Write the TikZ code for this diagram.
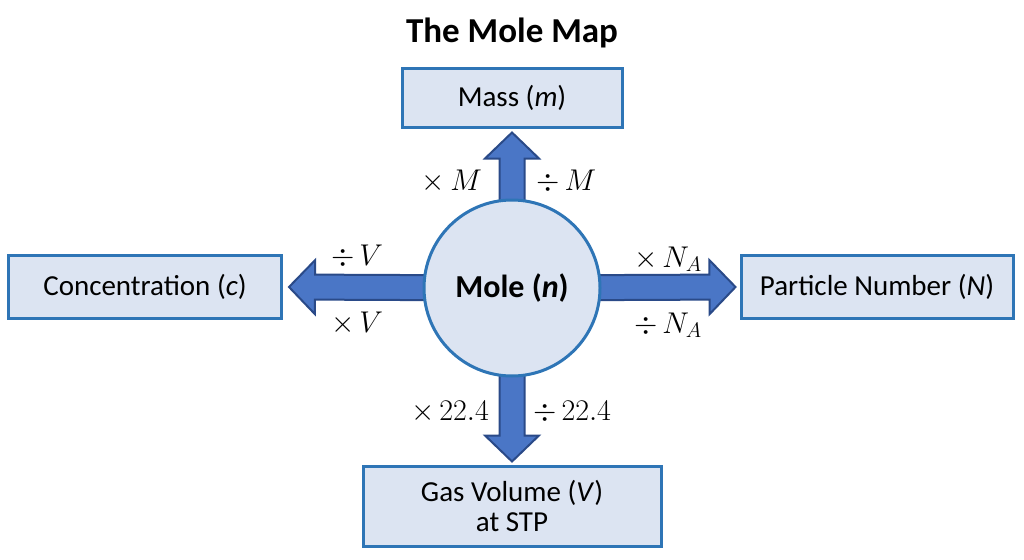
\documentclass[tikz,border=0pt]{standalone}
\usepackage{fix-cm}
\usepackage[no-math]{fontspec}
\setmainfont{Carlito}
\usetikzlibrary{calc,backgrounds}
\definecolor{boxfill}{HTML}{DCE4F2}
\definecolor{boxline}{HTML}{2E75B6}
\definecolor{arrfill}{HTML}{4A76C6}
\definecolor{arrline}{HTML}{2A4A88}
\tikzset{
  box/.style={draw=boxline, fill=boxfill, line width=3pt, rectangle, align=center, inner sep=0pt,
    font=\fontsize{29}{33}\selectfont},
  molecircle/.style={draw=boxline, fill=boxfill, line width=3pt, circle, minimum size=176pt, inner sep=0pt,
    font=\fontsize{32}{36}\selectfont\bfseries},
  fatarrow/.style={draw=arrline, line width=2pt, line join=miter, fill=arrfill},
  lab/.style={font=\fontsize{30}{34}\selectfont, inner sep=0pt},
  titlestyle/.style={font=\fontsize{35}{40}\selectfont\bfseries, inner sep=0pt}
}
\newcommand\fatarrow[2]{%
  \path (#1) coordinate (faS) (#2) coordinate (faT);
  \path ($(faT)!26pt!(faS)$) coordinate (faH);
  \draw[fatarrow] ($(faS)!12.5pt!90:(faT)$) -- ($(faH)!12.5pt!90:(faT)$) -- ($(faH)!27pt!90:(faT)$)
    -- (faT) -- ($(faH)!27pt!-90:(faT)$) -- ($(faH)!12.5pt!-90:(faT)$) -- ($(faS)!12.5pt!-90:(faT)$) -- cycle;
}
\begin{document}
\begin{tikzpicture}[x=1pt,y=-1pt]
\useasboundingbox (0,0) rectangle (1024,559);
\node[titlestyle] (title) at (512,33) {The Mole Map};
\node[box, minimum width=220pt, minimum height=58pt] (mass) at (512,98) {Mass (\textit{m})};
\node[box, minimum width=273pt, minimum height=63pt] (conc) at (145,287) {Concentration (\textit{c})};
\node[box, minimum width=272pt, minimum height=63pt] (part) at (877,287) {Particle Number (\textit{N})};
\node[box, minimum width=298pt, minimum height=80pt] (gas) at (512,506) {Gas Volume (\textit{V})\\[-3pt]at STP};
\node[molecircle] (mole) at (512,288) {Mole (\textit{n})};
\begin{pgfonlayer}{background}
  \fatarrow{mole.center}{$(mass.south)+(0,4)$}
  \fatarrow{mole.center}{$(conc.east)+(6,0)$}
  \fatarrow{mole.center}{$(part.west)+(-4,0)$}
  \fatarrow{mole.center}{$(gas.north)+(0,-3)$}
\end{pgfonlayer}
\node[lab, anchor=east] (l1) at (482,181) {$\times\, M$};
\node[lab, anchor=west] (l2) at (536,181) {$\div\, M$};
\node[lab] (l3) at (357,256) {$\div\, V$};
\node[lab] (l4) at (357,323) {$\times\, V$};
\node[lab] (l5) at (668,259) {$\times\, N_A$};
\node[lab] (l6) at (668,325) {$\div\, N_A$};
\node[lab, anchor=east] (l7) at (489,412) {$\times\, 22.4$};
\node[lab, anchor=west] (l8) at (533,412) {$\div\, 22.4$};
\end{tikzpicture}
\end{document}
